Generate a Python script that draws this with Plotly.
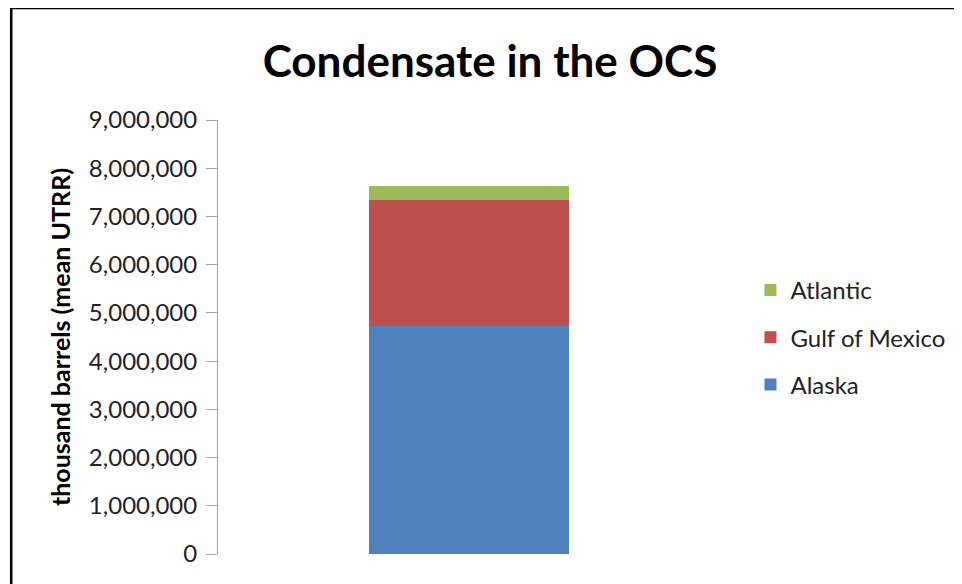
import plotly.graph_objects as go

categories = ["OCS"]
series_names = ["Alaska", "Gulf of Mexico", "Atlantic"]
alaska = [4730000]
gulf = [2610000]
atlantic = [290000]
colors = ["#4F81BD", "#C0504D", "#9BBB59"]
legend_ranks = [3, 2, 1]
y_ticks = list(range(0, 9000001, 1000000))

S = 8  # page body offset
W, H = 962, 584
L = 218 - S
T = 120 - S
B = H - (554 - S)
R = W - (720.5 - S)
pw, ph = W - L - R, H - T - B

def px_x(p):
    return (p - S - L) / pw

def px_y(p):
    return (H - B - (p - S)) / ph

FONT = "Lato"

fig = go.Figure()
for name, vals, col, rk in zip(series_names, [alaska, gulf, atlantic], colors, legend_ranks):
    fig.add_trace(go.Bar(x=categories, y=vals, name=name, marker_color=col,
                         marker_line_width=0, width=0.4, legendgroup=name,
                         legendrank=rk))

fig.update_layout(
    width=W, height=H,
    margin=dict(l=L, r=R, t=T, b=B, autoexpand=False),
    barmode="stack",
    plot_bgcolor="white", paper_bgcolor="white",
    title=dict(text="<b>Condensate in the OCS</b>", xref="container",
               x=(490 - S) / W, xanchor="center",
               y=1 - (62 - S) / H, yanchor="middle",
               font=dict(family=FONT, size=44, color="black")),
    xaxis=dict(showticklabels=False, showline=False, showgrid=False, zeroline=False,
               ticks=""),
    yaxis=dict(range=[0, 9000000], tickvals=y_ticks, tickformat=",d",
               showgrid=False, zeroline=False, showline=True, linecolor="#A6A6A6",
               linewidth=1, ticks="outside", ticklen=11, tickcolor="#A6A6A6",
               ticklabelstandoff=4,
               tickfont=dict(family=FONT, size=24, color="#222222"),
               title=dict(text="<b>thousand barrels (mean UTRR)</b>", standoff=11,
                          font=dict(family=FONT, size=25, color="black"))),
    legend=dict(traceorder="grouped", tracegroupgap=13,
                x=px_x(751), xanchor="left", y=px_y(268), yanchor="top",
                font=dict(family=FONT, size=24, color="#222222"),
                bgcolor="rgba(0,0,0,0)"),
    shapes=[
        dict(type="line", xref="paper", yref="paper", x0=px_x(10), x1=px_x(980),
             y0=px_y(8), y1=px_y(8), line=dict(color="black", width=2.5)),
        dict(type="line", xref="paper", yref="paper", x0=px_x(11), x1=px_x(11),
             y0=px_y(7), y1=px_y(600), line=dict(color="black", width=2.5)),
    ],
)

fig.write_html("out.html")
